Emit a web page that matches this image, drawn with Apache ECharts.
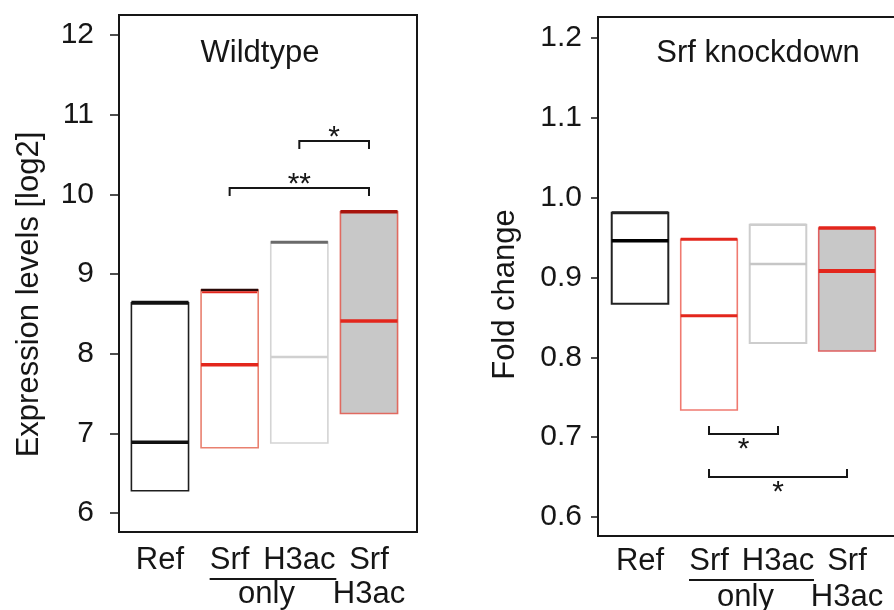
<!DOCTYPE html>
<html><head><meta charset="utf-8">
<script src="https://cdn.jsdelivr.net/npm/echarts@6/dist/echarts.min.js"></script>
<style>html,body{margin:0;padding:0;background:#fff}#c{width:894px;height:610px}</style>
</head><body><div id="c"></div>
<script>
// ---- data ----
const categories = ['Ref', 'Srf', 'H3ac', 'Srf\nH3ac'];
const groupLabel = 'only';              // shared label under "Srf  H3ac"
const panelTitles = ['Wildtype', 'Srf knockdown'];
const yNames = ['Expression levels [log2]', 'Fold change'];

const wtLow    = [6.28, 6.82, 6.88, 7.25];
const wtMedian = [6.89, 7.86, 7.96, 8.41];
const wtHigh   = [8.64, 8.80, 9.40, 9.78];

const kdLow    = [0.867, 0.734, 0.818, 0.808];
const kdMedian = [0.946, 0.852, 0.917, 0.908];
const kdHigh   = [0.981, 0.948, 0.966, 0.962];

const wtTicks = [6, 7, 8, 9, 10, 11, 12];
const kdTicks = [0.6, 0.7, 0.8, 0.9, 1.0, 1.1, 1.2];

// significance brackets: [from category, to category, y value, label]
const wtBrackets = [[3, 4, 10.67, '*'], [2, 4, 10.08, '**']];
const kdBrackets = [[2, 3, 0.704, '*'], [2, 4, 0.650, '*']];

// ---- styles ----
const FF = '"Liberation Sans", Arial, Helvetica, sans-serif';
const INK = '#161616';
const wtStyle = [
  {stroke:'#1e1e1e', fill:'#fff',    lw:1.6, med:'#111',    medW:3.5, top:'#111',    topW:4},
  {stroke:'#e9806f', fill:'#fff',    lw:1.6, med:'#e3261c', medW:3.5, top:'#2a0a08', topW:2.5, top2:'#e3261c'},
  {stroke:'#d4d4d4', fill:'#fff',    lw:1.6, med:'#d0d0d0', medW:2.5, top:'#6a6a6a', topW:3},
  {stroke:'#e06a60', fill:'#c8c8c8', lw:1.6, med:'#e3261c', medW:3.5, top:'#a8140c', topW:3.5}
];
const kdStyle = [
  {stroke:'#222',    fill:'#fff',    lw:2,   med:'#000',    medW:3.5, top:'#222',    topW:3},
  {stroke:'#f07a70', fill:'#fff',    lw:1.6, med:'#e3261c', medW:3,   top:'#e3261c', topW:3},
  {stroke:'#cdcdcd', fill:'#fff',    lw:2,   med:'#c6c6c6', medW:2.5, top:'#cdcdcd', topW:2.5},
  {stroke:'#e06060', fill:'#c8c8c8', lw:1.6, med:'#e3261c', medW:4,   top:'#e3261c', topW:3.5}
];

function boxRender(styles, halfW) {
  return function (params, api) {
    const x = api.value(0), lo = api.value(1), md = api.value(2), hi = api.value(3);
    const s = styles[params.dataIndex];
    const p1 = api.coord([x - halfW, hi]);
    const p2 = api.coord([x + halfW, lo]);
    const pm = api.coord([x, md]);
    const ch = [
      {type:'rect', shape:{x:p1[0], y:p1[1], width:p2[0]-p1[0], height:p2[1]-p1[1]},
       style:{fill:s.fill, stroke:s.stroke, lineWidth:s.lw}},
      {type:'line', shape:{x1:p1[0], y1:pm[1], x2:p2[0], y2:pm[1]},
       style:{stroke:s.med, lineWidth:s.medW}},
      {type:'line', shape:{x1:p1[0], y1:p1[1], x2:p2[0], y2:p1[1]},
       style:{stroke:s.top, lineWidth:s.topW}}
    ];
    if (s.top2) ch.push({type:'line', shape:{x1:p1[0]+1, y1:p1[1]+2.2, x2:p2[0]-1, y2:p1[1]+2.2},
       style:{stroke:s.top2, lineWidth:2}});
    return {type:'group', children: ch};
  };
}

function bracketRender(list, dir, tickLen, labelDy) {
  return function (params, api) {
    const b = list[params.dataIndex];
    const a = api.coord([b[0], b[2]]);
    const c = api.coord([b[1], b[2]]);
    return {type:'group', children:[
      {type:'polyline', shape:{points:[[a[0], a[1]+dir*tickLen],[a[0], a[1]],[c[0], c[1]],[c[0], c[1]+dir*tickLen]]},
       style:{stroke:INK, lineWidth:2, fill:null}},
      {type:'text', x:(a[0]+c[0])/2, y:a[1]+labelDy,
       style:{text:b[3], font:'30px ' + FF, fill:INK, align:'center', verticalAlign:'middle'}}
    ]};
  };
}

// category labels under each box (first line, optional second line)
function catLabelRender(yMin, dy1, dy2) {
  return function (params, api) {
    const p = api.coord([api.value(0), yMin]);
    const lines = categories[params.dataIndex].split('\n');
    return {type:'group', children: lines.map((t, k) => ({
      type:'text', x:p[0], y:p[1] + (k === 0 ? dy1 : dy2),
      style:{text:t, font:'31px ' + FF, fill:INK, align:'center', verticalAlign:'middle'}
    }))};
  };
}

function groupRender(yMin, lineDy, textDy, leftPad, rightPad) {
  return function (params, api) {
    const p = api.coord([2.5, yMin]);
    const pa = api.coord([2, yMin]);
    const pb = api.coord([3, yMin]);
    return {type:'group', children:[
      {type:'line', shape:{x1:pa[0]-leftPad, y1:p[1]+lineDy, x2:pb[0]+rightPad, y2:p[1]+lineDy},
       style:{stroke:INK, lineWidth:2}},
      {type:'text', x:p[0]+2, y:p[1]+textDy,
       style:{text:groupLabel, font:'31px ' + FF, fill:INK, align:'center', verticalAlign:'middle'}}
    ]};
  };
}

const WT_MIN = 5.762, WT_MAX = 12.251;
const KD_MIN = 0.5762, KD_MAX = 1.2263;

function xAxisCfg(gi, min, max) {
  return {gridIndex:gi, type:'value', min:min, max:max,
    splitLine:{show:false}, axisLine:{show:false}, axisTick:{show:false}, axisLabel:{show:false}};
}
function yAxisCfg(gi, min, max, ticks, fmt, margin, tickLen, name, gap, pad) {
  return {gridIndex:gi, type:'value', min:min, max:max,
    splitLine:{show:false},
    axisLine:{show:true, lineStyle:{color:INK, width:2}},
    axisTick:{show:true, inside:false, length:tickLen, customValues:ticks, lineStyle:{color:INK, width:1.5}},
    axisLabel:{customValues:ticks, formatter:fmt, fontSize:30, margin:margin, color:INK, fontFamily:FF},
    name:name, nameLocation:'middle', nameGap:gap,
    nameTextStyle:{fontSize:31, color:INK, fontFamily:FF, padding:pad}};
}

const catData = categories.map((c, i) => [i + 1]);

const chart = echarts.init(document.getElementById('c'), null, {renderer:'canvas'});
chart.setOption({
  animation:false,
  backgroundColor:'#fff',
  grid:[
    {left:119, top:15, width:298, height:517, show:true, borderColor:INK, borderWidth:2,
     backgroundColor:'transparent', containLabel:false, outerBoundsMode:'none'},
    {left:598, top:17, width:320, height:519, show:true, borderColor:INK, borderWidth:2,
     backgroundColor:'transparent', containLabel:false, outerBoundsMode:'none'}
  ],
  xAxis:[
    xAxisCfg(0, 0.412, 4.689),
    xAxisCfg(1, 0.391, 5.029)
  ],
  yAxis:[
    yAxisCfg(0, WT_MIN, WT_MAX, wtTicks, v => String(v), 25, 9, yNames[0], 74, [0,42,0,0]),
    yAxisCfg(1, KD_MIN, KD_MAX, kdTicks, v => v.toFixed(1), 16, 7, yNames[1], 77, [0,36,0,0])
  ],
  graphic:[
    {type:'text', x:260, y:53, style:{text:panelTitles[0], font:'31px ' + FF, fill:INK, align:'center', verticalAlign:'middle'}},
    {type:'text', x:758, y:53, style:{text:panelTitles[1], font:'31px ' + FF, fill:INK, align:'center', verticalAlign:'middle'}}
  ],
  series:[
    {type:'custom', xAxisIndex:0, yAxisIndex:0, clip:false, encode:{x:0, y:[1,2,3]},
     renderItem:boxRender(wtStyle, 0.41),
     data:categories.map((c,i) => [i+1, wtLow[i], wtMedian[i], wtHigh[i]])},
    {type:'custom', xAxisIndex:1, yAxisIndex:1, clip:false, encode:{x:0, y:[1,2,3]},
     renderItem:boxRender(kdStyle, 0.41),
     data:categories.map((c,i) => [i+1, kdLow[i], kdMedian[i], kdHigh[i]])},
    {type:'custom', xAxisIndex:0, yAxisIndex:0, clip:false, encode:{x:[0,1], y:2},
     renderItem:bracketRender(wtBrackets, 1, 8, -3),
     data:wtBrackets.map(b => [b[0], b[1], b[2]])},
    {type:'custom', xAxisIndex:1, yAxisIndex:1, clip:false, encode:{x:[0,1], y:2},
     renderItem:bracketRender(kdBrackets, -1, 8, 16),
     data:kdBrackets.map(b => [b[0], b[1], b[2]])},
    {type:'custom', xAxisIndex:0, yAxisIndex:0, clip:false, encode:{x:0},
     renderItem:catLabelRender(WT_MIN, 28, 62), data:catData},
    {type:'custom', xAxisIndex:1, yAxisIndex:1, clip:false, encode:{x:0},
     renderItem:catLabelRender(KD_MIN, 25, 61), data:catData},
    {type:'custom', xAxisIndex:0, yAxisIndex:0, clip:false, encode:{x:0},
     renderItem:groupRender(WT_MIN, 47, 62, 20, 37), data:[[2.5]]},
    {type:'custom', xAxisIndex:1, yAxisIndex:1, clip:false, encode:{x:0},
     renderItem:groupRender(KD_MIN, 44, 61, 20, 36), data:[[2.5]]}
  ]
});
</script></body></html>
